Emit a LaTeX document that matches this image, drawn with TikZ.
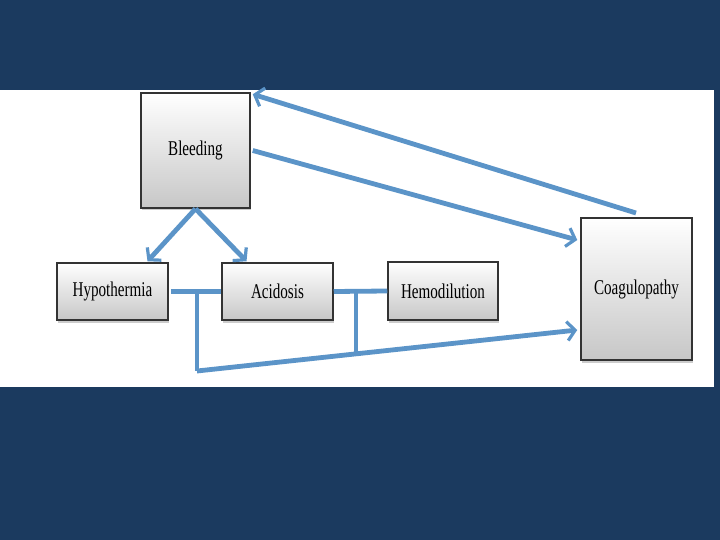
\documentclass[tikz,border=0pt]{standalone}
\usepackage{fontspec}
\setmainfont{Liberation Serif}[FakeStretch=0.72]
\usetikzlibrary{arrows.meta,shadows}
\definecolor{navy}{HTML}{1B3A5F}
\definecolor{link}{HTML}{5B94C8}
\tikzset{
  box/.style={draw=black!80, line width=1.5pt, top color=white, bottom color=black!22,
    inner sep=0pt, font=\fontsize{21}{23}\selectfont, text=black,
    drop shadow={shadow xshift=0.5pt, shadow yshift=-2.5pt, opacity=0.4}},
  conn/.style={draw=link, line width=4.8pt},
  arr/.style={conn, -{Straight Barb[length=8pt,width=19pt,line width=3.2pt]}}
}
\begin{document}
\begin{tikzpicture}[x=1pt,y=-1pt]
\useasboundingbox (0,0) rectangle (720,540);
\fill[navy] (0,0) rectangle (720,540);
\fill[white] (0,90) rectangle (714,387);
% boxes
\node[box, minimum width=109pt, minimum height=115pt] (bleed) at (195.5,150.5) {Bleeding};
\node[box, minimum width=111pt, minimum height=57pt] (hypo) at (112.5,291.5) {Hypothermia};
\node[box, minimum width=111pt, minimum height=57pt] (acid) at (277.5,291.5) {Acidosis};
\node[box, minimum width=110pt, minimum height=58pt] (hemo) at (443,291) {Hemodilution};
\node[box, minimum width=111pt, minimum height=142pt] (coag) at (636.5,289) {Coagulopathy};
% junction coordinates
\coordinate (j1) at (197,292);
\coordinate (j1b) at (197,371);
\coordinate (j2) at (356,290);
\coordinate (j2b) at (356,354);
\coordinate (ct) at (636,213);
% connectors
\draw[arr] (ct) -- ([xshift=2pt,yshift=-2pt]bleed.north east);
\draw[arr] ([xshift=2pt]bleed.east) -- ([xshift=-3pt,yshift=49pt]coag.west);
\draw[arr] (bleed.south) -- ([xshift=35pt,yshift=1pt]hypo.north);
\draw[arr] (bleed.south) -- ([xshift=-31pt,yshift=1pt]acid.north);
\draw[conn] ([xshift=2pt]hypo.east) -- (acid.west);
\draw[conn] (j1) -- (j1b);
\draw[conn] (acid.east) -- (hemo.west);
\draw[conn] (j2) -- (j2b);
\draw[arr] (j1b) -- ([xshift=-3pt,yshift=-41pt]coag.west);
\end{tikzpicture}
\end{document}
